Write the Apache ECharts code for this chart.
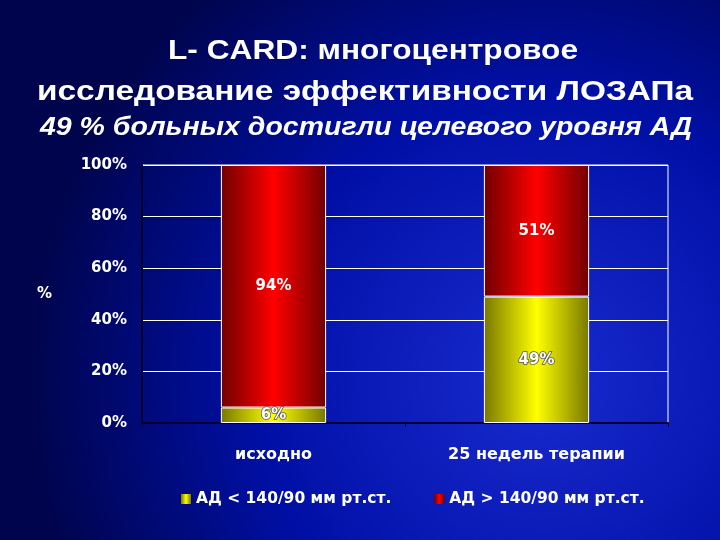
<!DOCTYPE html>
<html>
<head>
<meta charset="utf-8">
<script src="https://cdn.jsdelivr.net/npm/echarts@6/dist/echarts.min.js"></script>
<style>html,body{margin:0;padding:0;background:#000050;}#c{width:720px;height:540px;}</style>
</head>
<body>
<div id="c"></div>
<script>
var titleLines = ['L- CARD: многоцентровое', 'исследование эффективности ЛОЗАПа', '49 % больных достигли целевого уровня АД'];
var categories = ['исходно', '25 недель терапии'];
var seriesNames = ['АД < 140/90 мм рт.ст.', 'АД > 140/90 мм рт.ст.'];
var belowTarget = [6, 49];
var aboveTarget = [94, 51];
var yTicks = [0, 20, 40, 60, 80, 100];

function barGrad(edge, mid) {
  return new echarts.graphic.LinearGradient(0, 0, 1, 0, [
    {offset: 0, color: edge}, {offset: 0.5, color: mid}, {offset: 1, color: edge}
  ]);
}

var measureCtx = document.createElement('canvas').getContext('2d');
function titleText(text, font, cx, cy, targetWidth) {
  measureCtx.font = font;
  var w = measureCtx.measureText(text).width;
  return {type: 'text', x: cx, y: cy, scaleX: targetWidth / w, style: {text: text, fill: '#fff', font: font, align: 'center', verticalAlign: 'middle'}};
}

var fontWide = '"DejaVu Sans", sans-serif';
var tickFont = {color: '#fff', fontFamily: fontWide, fontWeight: 'bold', fontSize: 15};

var chart = echarts.init(document.getElementById('c'));
chart.setOption({
  backgroundColor: new echarts.graphic.RadialGradient(0.75, 0.7, 0.95, [
    {offset: 0, color: '#1a2bd0'}, {offset: 0.55, color: '#0010a6'}, {offset: 1, color: '#00044c'}
  ]),
  graphic: [
    titleText(titleLines[0], 'bold 28px "Liberation Sans"', 373, 51, 410),
    titleText(titleLines[1], 'bold 28px "Liberation Sans"', 365, 92, 656),
    titleText(titleLines[2], 'italic bold 26px "Liberation Sans"', 366, 128, 652)
  ],
  legend: {
    left: 176, top: 486, itemWidth: 10, itemHeight: 10, itemGap: 43, icon: 'rect',
    itemStyle: {borderWidth: 0},
    textStyle: {color: '#fff', fontFamily: fontWide, fontWeight: 'bold', fontSize: 15.5},
    data: seriesNames
  },
  grid: {left: 142, right: 52, top: 165, bottom: 117, show: true, borderColor: '#ffffff', borderWidth: 1, backgroundColor: 'transparent'},
  xAxis: {
    type: 'category', data: categories,
    axisLine: {lineStyle: {color: '#000030', width: 2}},
    axisTick: {show: true, length: 4, lineStyle: {color: '#000030'}},
    axisLabel: {margin: 24, color: '#fff', fontFamily: fontWide, fontWeight: 'bold', fontSize: 16}
  },
  yAxis: {
    type: 'value', min: 0, max: 100, interval: 20,
    name: '%', nameLocation: 'middle', nameRotate: 0, nameGap: 90,
    nameTextStyle: tickFont,
    axisLine: {show: true, lineStyle: {color: '#000030', width: 2}},
    axisTick: {show: false},
    splitLine: {lineStyle: {color: '#ffffff', width: 1}},
    axisLabel: Object.assign({margin: 15, formatter: function (v) { return yTicks.indexOf(v) >= 0 ? v + '%' : ''; }}, tickFont)
  },
  series: [
    {
      name: seriesNames[0], type: 'bar', stack: 'a', barWidth: '40%', data: belowTarget,
      itemStyle: {color: barGrad('#787800', '#ffff00'), borderColor: '#ffffff', borderWidth: 1},
      label: {show: true, position: 'inside', formatter: '{c}%', color: '#fff', fontFamily: fontWide, fontWeight: 'bold', fontSize: 15, textBorderColor: '#555', textBorderWidth: 1.5}
    },
    {
      name: seriesNames[1], type: 'bar', stack: 'a', barWidth: '40%', data: aboveTarget,
      itemStyle: {color: barGrad('#700000', '#ff0000'), borderColor: '#ffffff', borderWidth: 1},
      label: {show: true, position: 'inside', formatter: '{c}%', color: '#fff', fontFamily: fontWide, fontWeight: 'bold', fontSize: 15}
    }
  ]
});
</script>
</body>
</html>
